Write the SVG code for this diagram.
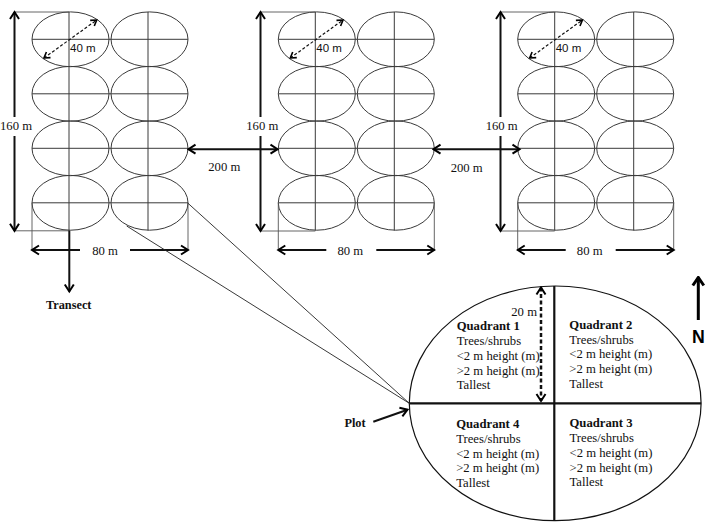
<svg xmlns="http://www.w3.org/2000/svg" width="709" height="528" viewBox="0 0 709 528">
<defs>
<marker id="ah" viewBox="-10 -7 12 14" refX="0" refY="0" markerWidth="12" markerHeight="14" markerUnits="userSpaceOnUse" orient="auto-start-reverse">
<path d="M-7,-4.5 L0,0 L-7,4.5" fill="none" stroke="#000" stroke-width="2" stroke-dasharray="none"/>
</marker>
<marker id="ahs" viewBox="-8 -5 10 10" refX="0" refY="0" markerWidth="10" markerHeight="10" markerUnits="userSpaceOnUse" orient="auto-start-reverse">
<path d="M-5.5,-3.5 L0,0 L-5.5,3.5" fill="none" stroke="#000" stroke-width="1.6" stroke-dasharray="none"/>
</marker>
<marker id="ahb" viewBox="-12 -8 14 16" refX="0" refY="0" markerWidth="14" markerHeight="16" markerUnits="userSpaceOnUse" orient="auto-start-reverse">
<path d="M-8,-5.5 L0,0 L-8,5.5" fill="none" stroke="#000" stroke-width="3" stroke-dasharray="none"/>
</marker>
</defs>
<style>
.el{fill:none;stroke:#3a3a3a;stroke-width:1}
.gl{stroke:#3a3a3a;stroke-width:1}
.ext{stroke:#555;stroke-width:0.9}
.arr{stroke:#111;stroke-width:2;fill:none;marker-end:url(#ah)}
.arr2{stroke:#111;stroke-width:2;fill:none;marker-start:url(#ah);marker-end:url(#ah)}
.dsh{stroke:#111;stroke-width:1.2;stroke-dasharray:3 2;marker-start:url(#ahs);marker-end:url(#ahs)}
.zl{stroke:#222;stroke-width:0.9}
.t{font-family:"Liberation Serif","Times New Roman",serif;font-size:12.7px;fill:#111}
.b{font-weight:bold}
.c{text-anchor:middle}
.s{font-family:"Liberation Sans",Arial,sans-serif;font-size:11.5px;fill:#111}
</style>
<rect width="709" height="528" fill="#fff"/>

<g id="transect1">
<ellipse class="el" cx="70.5" cy="39.3" rx="38.5" ry="27.4"/>
<ellipse class="el" cx="149.5" cy="39.3" rx="38.5" ry="27.4"/>
<ellipse class="el" cx="70.5" cy="93.8" rx="38.5" ry="27.4"/>
<ellipse class="el" cx="149.5" cy="93.8" rx="38.5" ry="27.4"/>
<ellipse class="el" cx="70.5" cy="148.3" rx="38.5" ry="27.4"/>
<ellipse class="el" cx="149.5" cy="148.3" rx="38.5" ry="27.4"/>
<ellipse class="el" cx="70.5" cy="202.8" rx="38.5" ry="27.4"/>
<ellipse class="el" cx="149.5" cy="202.8" rx="38.5" ry="27.4"/>
<line class="gl" x1="32" y1="39.3" x2="188" y2="39.3"/>
<line class="gl" x1="32" y1="93.8" x2="188" y2="93.8"/>
<line class="gl" x1="32" y1="148.3" x2="188" y2="148.3"/>
<line class="gl" x1="32" y1="202.8" x2="188" y2="202.8"/>
<line class="gl" x1="69" y1="12" x2="69" y2="230.5"/>
<line class="gl" x1="148" y1="12" x2="148" y2="230.5"/>
</g>

<g id="transect2">
<ellipse class="el" cx="316.8" cy="39.3" rx="38.5" ry="27.4"/>
<ellipse class="el" cx="395.8" cy="39.3" rx="38.5" ry="27.4"/>
<ellipse class="el" cx="316.8" cy="93.8" rx="38.5" ry="27.4"/>
<ellipse class="el" cx="395.8" cy="93.8" rx="38.5" ry="27.4"/>
<ellipse class="el" cx="316.8" cy="148.3" rx="38.5" ry="27.4"/>
<ellipse class="el" cx="395.8" cy="148.3" rx="38.5" ry="27.4"/>
<ellipse class="el" cx="316.8" cy="202.8" rx="38.5" ry="27.4"/>
<ellipse class="el" cx="395.8" cy="202.8" rx="38.5" ry="27.4"/>
<line class="gl" x1="278.3" y1="39.3" x2="434.3" y2="39.3"/>
<line class="gl" x1="278.3" y1="93.8" x2="434.3" y2="93.8"/>
<line class="gl" x1="278.3" y1="148.3" x2="434.3" y2="148.3"/>
<line class="gl" x1="278.3" y1="202.8" x2="434.3" y2="202.8"/>
<line class="gl" x1="315.3" y1="12" x2="315.3" y2="230.5"/>
<line class="gl" x1="394.3" y1="12" x2="394.3" y2="230.5"/>
</g>

<g id="transect3">
<ellipse class="el" cx="556.2" cy="39.3" rx="38.5" ry="27.4"/>
<ellipse class="el" cx="635.2" cy="39.3" rx="38.5" ry="27.4"/>
<ellipse class="el" cx="556.2" cy="93.8" rx="38.5" ry="27.4"/>
<ellipse class="el" cx="635.2" cy="93.8" rx="38.5" ry="27.4"/>
<ellipse class="el" cx="556.2" cy="148.3" rx="38.5" ry="27.4"/>
<ellipse class="el" cx="635.2" cy="148.3" rx="38.5" ry="27.4"/>
<ellipse class="el" cx="556.2" cy="202.8" rx="38.5" ry="27.4"/>
<ellipse class="el" cx="635.2" cy="202.8" rx="38.5" ry="27.4"/>
<line class="gl" x1="517.7" y1="39.3" x2="673.7" y2="39.3"/>
<line class="gl" x1="517.7" y1="93.8" x2="673.7" y2="93.8"/>
<line class="gl" x1="517.7" y1="148.3" x2="673.7" y2="148.3"/>
<line class="gl" x1="517.7" y1="202.8" x2="673.7" y2="202.8"/>
<line class="gl" x1="554.7" y1="12" x2="554.7" y2="230.5"/>
<line class="gl" x1="633.7" y1="12" x2="633.7" y2="230.5"/>
</g>

<g id="plot">
<ellipse cx="555.2" cy="403.3" rx="145.9" ry="117.3" fill="none" stroke="#111" stroke-width="1.2"/>
<line x1="409.3" y1="403.3" x2="701.1" y2="403.3" stroke="#111" stroke-width="2.2"/>
<line x1="554.3" y1="286" x2="554.3" y2="520.6" stroke="#111" stroke-width="2.2"/>
<g id="q1" class="t">
<text x="456.7" y="330.2" class="b">Quadrant 1</text>
<text x="456.7" y="345">Trees/shrubs</text>
<text x="456.7" y="359.8">&lt;2 m height (m)</text>
<text x="456.7" y="374.6">&gt;2 m height (m)</text>
<text x="456.7" y="389.4">Tallest</text>
</g>
<g id="q2" class="t">
<text x="569.3" y="328.8" class="b">Quadrant 2</text>
<text x="569.3" y="343.6">Trees/shrubs</text>
<text x="569.3" y="358.4">&lt;2 m height (m)</text>
<text x="569.3" y="373.2">&gt;2 m height (m)</text>
<text x="569.3" y="388">Tallest</text>
</g>
<g id="q4" class="t">
<text x="456.2" y="428" class="b">Quadrant 4</text>
<text x="456.2" y="442.8">Trees/shrubs</text>
<text x="456.2" y="457.6">&lt;2 m height (m)</text>
<text x="456.2" y="472.4">&gt;2 m height (m)</text>
<text x="456.2" y="487.2">Tallest</text>
</g>
<g id="q3" class="t">
<text x="569.5" y="427.2" class="b">Quadrant 3</text>
<text x="569.5" y="442">Trees/shrubs</text>
<text x="569.5" y="456.8">&lt;2 m height (m)</text>
<text x="569.5" y="471.6">&gt;2 m height (m)</text>
<text x="569.5" y="486.4">Tallest</text>
</g>
</g>

<g id="connectors">
<!-- extension lines -->
<line class="ext" x1="14.5" y1="12" x2="69" y2="12"/>
<line class="ext" x1="14.5" y1="230.8" x2="69" y2="230.8"/>
<line class="ext" x1="32" y1="202.8" x2="32" y2="250"/>
<line class="ext" x1="188" y1="202.8" x2="188" y2="250"/>
<line class="ext" x1="260.5" y1="12" x2="315.3" y2="12"/>
<line class="ext" x1="260.5" y1="231" x2="315.3" y2="231"/>
<line class="ext" x1="278.3" y1="202.8" x2="278.3" y2="250"/>
<line class="ext" x1="434.3" y1="202.8" x2="434.3" y2="250"/>
<line class="ext" x1="500.5" y1="12" x2="554.7" y2="12"/>
<line class="ext" x1="500.5" y1="231" x2="554.7" y2="231"/>
<line class="ext" x1="517.7" y1="202.8" x2="517.7" y2="250"/>
<line class="ext" x1="673.7" y1="202.8" x2="673.7" y2="250"/>
<!-- 160 m arrows -->
<line class="arr" x1="14.5" y1="117" x2="14.5" y2="12"/>
<line class="arr" x1="14.5" y1="136" x2="14.5" y2="230.8"/>
<line class="arr" x1="260.5" y1="117" x2="260.5" y2="12"/>
<line class="arr" x1="260.5" y1="136" x2="260.5" y2="231"/>
<line class="arr" x1="500.5" y1="117" x2="500.5" y2="12"/>
<line class="arr" x1="500.5" y1="136" x2="500.5" y2="231"/>
<!-- 80 m arrows -->
<line class="arr" x1="80" y1="250" x2="32" y2="250"/>
<line class="arr" x1="130" y1="250" x2="188" y2="250"/>
<line class="arr" x1="326.3" y1="250" x2="278.3" y2="250"/>
<line class="arr" x1="376.3" y1="250" x2="434.3" y2="250"/>
<line class="arr" x1="565.7" y1="250" x2="517.7" y2="250"/>
<line class="arr" x1="615.7" y1="250" x2="673.7" y2="250"/>
<!-- 200 m arrows -->
<line class="arr2" x1="188.5" y1="149.2" x2="277.5" y2="149.2"/>
<line class="arr2" x1="433.5" y1="149.2" x2="519.5" y2="149.2"/>
<!-- 40 m dashed arrows -->
<line class="dsh" x1="44" y1="58" x2="96.7" y2="20"/>
<line class="dsh" x1="290.3" y1="58" x2="343" y2="20"/>
<line class="dsh" x1="529.7" y1="58" x2="582.4" y2="20"/>
<!-- transect arrow -->
<line class="arr" x1="69.3" y1="230.5" x2="69.3" y2="291.5"/>
<!-- zoom lines -->
<line class="zl" x1="187.7" y1="203" x2="409.3" y2="403.3"/>
<line class="zl" x1="126.7" y1="226" x2="409.3" y2="403.3"/>
<!-- plot arrow -->
<line class="arr" x1="373.3" y1="421.7" x2="407.5" y2="409.7"/>
<!-- 20 m dashed arrow -->
<line x1="541" y1="287.5" x2="541" y2="401" stroke="#111" stroke-width="2.5" stroke-dasharray="4 2.5" marker-start="url(#ah)" marker-end="url(#ah)"/>
<!-- North arrow -->
<line x1="698.3" y1="320" x2="698.3" y2="277.5" stroke="#000" stroke-width="3" marker-end="url(#ahb)"/>
</g>

<g id="labels">
<text class="t c" x="16" y="129.5">160 m</text>
<text class="t c" x="262.3" y="129.5">160 m</text>
<text class="t c" x="501.7" y="129.5">160 m</text>
<text class="t c" x="105" y="254.5">80 m</text>
<text class="t c" x="350.3" y="254.5">80 m</text>
<text class="t c" x="589.7" y="254.5">80 m</text>
<text class="t c" x="224.3" y="171">200 m</text>
<text class="t c" x="466.7" y="172">200 m</text>
<text class="s" x="70" y="52">40 m</text>
<text class="s" x="316.3" y="52">40 m</text>
<text class="s" x="555.7" y="52">40 m</text>
<text class="t" x="537" y="315.5" text-anchor="end">20 m</text>
<text class="t b c" x="68.7" y="308.5" style="font-size:12.3px">Transect</text>
<text class="t b c" x="355" y="426.5" style="font-size:12.3px">Plot</text>
<text x="698.3" y="342.7" text-anchor="middle" font-family="'Liberation Sans',Arial,sans-serif" font-weight="bold" font-size="17.7" fill="#000">N</text>
</g>
</svg>
